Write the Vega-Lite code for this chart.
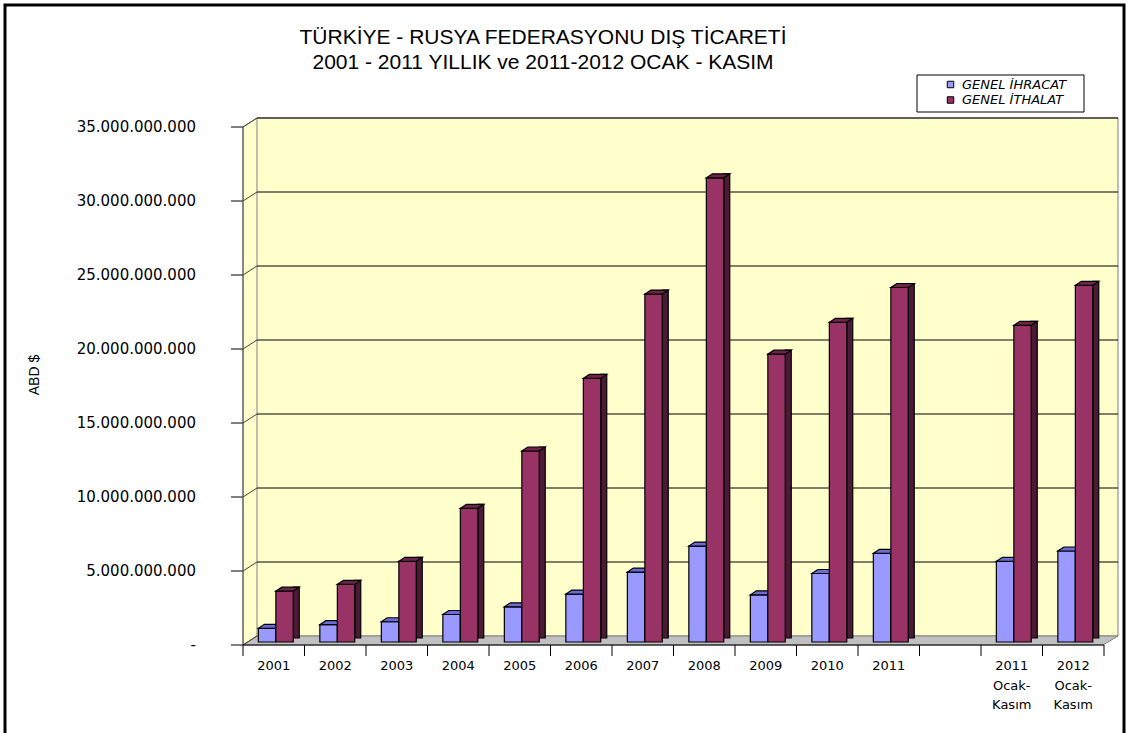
{
  "$schema": "https://vega.github.io/schema/vega-lite/v6.json",
  "width": 861,
  "height": 518,
  "autosize": "none",
  "padding": {"left": 243, "top": 127, "right": 25, "bottom": 88},
  "background": "white",
  "config": {"view": {"stroke": null}, "font": "Liberation Sans"},
  "datasets": {
    "ticaret": [
      {"donem": "2001", "seri": "GENEL İHRACAT", "deger": 924000000},
      {"donem": "2002", "seri": "GENEL İHRACAT", "deger": 1172000000},
      {"donem": "2003", "seri": "GENEL İHRACAT", "deger": 1368000000},
      {"donem": "2004", "seri": "GENEL İHRACAT", "deger": 1859000000},
      {"donem": "2005", "seri": "GENEL İHRACAT", "deger": 2377000000},
      {"donem": "2006", "seri": "GENEL İHRACAT", "deger": 3238000000},
      {"donem": "2007", "seri": "GENEL İHRACAT", "deger": 4727000000},
      {"donem": "2008", "seri": "GENEL İHRACAT", "deger": 6483000000},
      {"donem": "2009", "seri": "GENEL İHRACAT", "deger": 3190000000},
      {"donem": "2010", "seri": "GENEL İHRACAT", "deger": 4628000000},
      {"donem": "2011", "seri": "GENEL İHRACAT", "deger": 5993000000},
      {"donem": "2011 Ocak-Kasım", "seri": "GENEL İHRACAT", "deger": 5450000000},
      {"donem": "2012 Ocak-Kasım", "seri": "GENEL İHRACAT", "deger": 6150000000},
      {"donem": "2001", "seri": "GENEL İTHALAT", "deger": 3436000000},
      {"donem": "2002", "seri": "GENEL İTHALAT", "deger": 3892000000},
      {"donem": "2003", "seri": "GENEL İTHALAT", "deger": 5451000000},
      {"donem": "2004", "seri": "GENEL İTHALAT", "deger": 9033000000},
      {"donem": "2005", "seri": "GENEL İTHALAT", "deger": 12906000000},
      {"donem": "2006", "seri": "GENEL İTHALAT", "deger": 17806000000},
      {"donem": "2007", "seri": "GENEL İTHALAT", "deger": 23508000000},
      {"donem": "2008", "seri": "GENEL İTHALAT", "deger": 31364000000},
      {"donem": "2009", "seri": "GENEL İTHALAT", "deger": 19450000000},
      {"donem": "2010", "seri": "GENEL İTHALAT", "deger": 21601000000},
      {"donem": "2011", "seri": "GENEL İTHALAT", "deger": 23953000000},
      {"donem": "2011 Ocak-Kasım", "seri": "GENEL İTHALAT", "deger": 21400000000},
      {"donem": "2012 Ocak-Kasım", "seri": "GENEL İTHALAT", "deger": 24100000000}
    ],
    "tikler": [
      {"v": 0, "etiket": "-\u00a0\u00a0\u00a0\u00a0"},
      {"v": 5000000000, "etiket": "5.000.000.000"},
      {"v": 10000000000, "etiket": "10.000.000.000"},
      {"v": 15000000000, "etiket": "15.000.000.000"},
      {"v": 20000000000, "etiket": "20.000.000.000"},
      {"v": 25000000000, "etiket": "25.000.000.000"},
      {"v": 30000000000, "etiket": "30.000.000.000"},
      {"v": 35000000000, "etiket": "35.000.000.000"}
    ],
    "donemler": [
      {"donem": "2001", "etiket": "2001"},
      {"donem": "2002", "etiket": "2002"},
      {"donem": "2003", "etiket": "2003"},
      {"donem": "2004", "etiket": "2004"},
      {"donem": "2005", "etiket": "2005"},
      {"donem": "2006", "etiket": "2006"},
      {"donem": "2007", "etiket": "2007"},
      {"donem": "2008", "etiket": "2008"},
      {"donem": "2009", "etiket": "2009"},
      {"donem": "2010", "etiket": "2010"},
      {"donem": "2011", "etiket": "2011"},
      {"donem": " ", "etiket": ""},
      {"donem": "2011 Ocak-Kasım", "etiket": "2011|Ocak-|Kasım"},
      {"donem": "2012 Ocak-Kasım", "etiket": "2012|Ocak-|Kasım"}
    ]
  },
  "layer": [
    {
      "data": {"values": [{}]},
      "mark": {"type": "rect", "filled": false, "stroke": "black", "strokeWidth": 3},
      "encoding": {"x": {"value": -238}, "x2": {"value": 881}, "y": {"value": -122}, "y2": {"value": 640}}
    },
    {
      "data": {"values": [{}]},
      "mark": {"type": "text", "font": "Liberation Sans", "fontSize": 21, "fontWeight": "normal", "color": "black", "align": "center", "baseline": "alphabetic", "lineHeight": 24.5},
      "encoding": {
        "x": {"value": 300}, "y": {"value": -83},
        "text": {"value": ["TÜRKİYE - RUSYA FEDERASYONU DIŞ TİCARETİ", "2001 - 2011 YILLIK ve 2011-2012 OCAK - KASIM"]}
      }
    },
    {
      "data": {"values": [{}]},
      "mark": {"type": "text", "font": "Liberation Sans", "fontSize": 14, "color": "black", "align": "center", "baseline": "middle", "angle": 270},
      "encoding": {"x": {"value": -208}, "y": {"value": 248}, "text": {"value": "ABD $"}}
    },
    {
      "data": {"values": [{}]},
      "mark": {"type": "point", "shape": "M0,0L14,-9L875,-9L875,509L14,509L0,518ZM14,-9L14,509", "size": 4, "filled": true, "opacity": 1, "fill": "#FFFFCC", "stroke": "#808080", "strokeWidth": 1},
      "encoding": {"x": {"value": 0}, "y": {"value": 0}}
    },
    {
      "data": {"values": [{}]},
      "mark": {"type": "point", "shape": "M0,518L860,518L875,509L14,509Z", "size": 4, "filled": true, "opacity": 1, "fill": "#C0C0C0", "stroke": "#808080", "strokeWidth": 1},
      "encoding": {"x": {"value": 0}, "y": {"value": 0}}
    },
    {
      "data": {"name": "tikler"},
      "transform": [{"filter": "datum.v > 0"}],
      "mark": {"type": "rule", "color": "black", "strokeWidth": 1, "yOffset": -9},
      "encoding": {
        "x": {"value": 14}, "x2": {"value": 875},
        "y": {"field": "v", "type": "quantitative", "axis": null, "scale": {"domain": [0, 35000000000], "nice": false, "zero": true}}
      }
    },
    {
      "data": {"name": "tikler"},
      "mark": {"type": "rule", "color": "#404040", "strokeWidth": 1, "y2Offset": -9},
      "encoding": {
        "x": {"value": 0}, "x2": {"value": 14},
        "y": {"field": "v", "type": "quantitative", "axis": null, "scale": {"domain": [0, 35000000000], "nice": false, "zero": true}},
        "y2": {"field": "v"}
      }
    },
    {
      "data": {"name": "tikler"},
      "mark": {"type": "rule", "color": "black", "strokeWidth": 1},
      "encoding": {
        "x": {"value": -12}, "x2": {"value": 0},
        "y": {"field": "v", "type": "quantitative", "axis": null, "scale": {"domain": [0, 35000000000], "nice": false, "zero": true}}
      }
    },
    {
      "data": {"name": "tikler"},
      "mark": {"type": "text", "font": "DejaVu Sans", "fontSize": 15, "color": "black", "align": "right", "baseline": "middle"},
      "encoding": {
        "x": {"value": -47},
        "y": {"field": "v", "type": "quantitative", "axis": null, "scale": {"domain": [0, 35000000000], "nice": false, "zero": true}},
        "text": {"field": "etiket", "type": "nominal"}
      }
    },
    {
      "data": {"values": [{}]},
      "mark": {"type": "rule", "color": "#505050", "strokeWidth": 1},
      "encoding": {
        "x": {"value": 0},
        "y": {"datum": 0, "type": "quantitative", "axis": null, "scale": {"domain": [0, 35000000000], "nice": false, "zero": true}},
        "y2": {"datum": 35000000000}
      }
    },
    {
      "data": {"values": [{}]},
      "mark": {"type": "rule", "color": "black", "strokeWidth": 1},
      "encoding": {
        "x": {"value": 0}, "x2": {"value": 861},
        "y": {"datum": 0, "type": "quantitative", "axis": null, "scale": {"domain": [0, 35000000000], "nice": false, "zero": true}}
      }
    },
    {
      "data": {"name": "donemler"},
      "mark": {"type": "rule", "color": "black", "strokeWidth": 1},
      "encoding": {
        "x": {"field": "donem", "type": "nominal", "sort": null, "bandPosition": 0, "axis": null, "scale": {"domain": ["2001","2002","2003","2004","2005","2006","2007","2008","2009","2010","2011"," ","2011 Ocak-Kasım","2012 Ocak-Kasım"], "paddingInner": 0, "paddingOuter": 0}},
        "y": {"value": 518}, "y2": {"value": 529}
      }
    },
    {
      "data": {"values": [{}]},
      "mark": {"type": "rule", "color": "black", "strokeWidth": 1},
      "encoding": {"x": {"value": 861}, "y": {"value": 518}, "y2": {"value": 529}}
    },
    {
      "data": {"name": "donemler"},
      "mark": {"type": "text", "font": "DejaVu Sans", "fontSize": 13, "color": "black", "align": "center", "baseline": "top", "lineBreak": "|", "lineHeight": 19.5},
      "encoding": {
        "x": {"field": "donem", "type": "nominal", "sort": null, "axis": null, "scale": {"domain": ["2001","2002","2003","2004","2005","2006","2007","2008","2009","2010","2011"," ","2011 Ocak-Kasım","2012 Ocak-Kasım"], "paddingInner": 0, "paddingOuter": 0}},
        "y": {"value": 533},
        "text": {"field": "etiket", "type": "nominal"}
      }
    },
    {
      "data": {"name": "ticaret"},
      "transform": [{"filter": "datum.seri == 'GENEL İHRACAT'"}],
      "mark": {"type": "bar", "width": 17.4, "xOffset": -6.7, "yOffset": -3, "y2Offset": -3, "stroke": "black", "strokeWidth": 1.2},
      "encoding": {
        "x": {"field": "donem", "type": "nominal", "sort": null, "axis": null, "scale": {"domain": ["2001","2002","2003","2004","2005","2006","2007","2008","2009","2010","2011"," ","2011 Ocak-Kasım","2012 Ocak-Kasım"], "paddingInner": 0, "paddingOuter": 0}},
        "y": {"field": "deger", "type": "quantitative", "axis": null, "scale": {"domain": [0, 35000000000], "nice": false, "zero": true}},
        "color": {
          "field": "seri", "type": "nominal",
          "scale": {"domain": ["GENEL İHRACAT", "GENEL İTHALAT"], "range": ["#9999FF", "#993366"]},
          "legend": {
            "orient": "none", "legendX": 701, "legendY": -49, "title": null,
            "symbolType": "square", "symbolSize": 42, "symbolStrokeColor": "black", "symbolStrokeWidth": 1,
            "labelFont": "DejaVu Sans", "labelFontStyle": "italic", "labelFontSize": 13, "labelColor": "black",
            "labelOffset": 5, "rowPadding": 1.5, "padding": 0
          }
        }
      }
    },
    {
      "data": {"name": "ticaret"},
      "transform": [{"filter": "datum.seri == 'GENEL İHRACAT'"}],
      "mark": {"type": "point", "shape": "M-8.7,0L8.7,0L14.7,-4L-2.7,-4Z", "size": 4, "filled": true, "opacity": 1, "fill": "#6B6BD6", "stroke": "black", "strokeWidth": 1.2, "xOffset": -6.7, "yOffset": -3},
      "encoding": {
        "x": {"field": "donem", "type": "nominal", "sort": null, "axis": null, "scale": {"domain": ["2001","2002","2003","2004","2005","2006","2007","2008","2009","2010","2011"," ","2011 Ocak-Kasım","2012 Ocak-Kasım"], "paddingInner": 0, "paddingOuter": 0}},
        "y": {"field": "deger", "type": "quantitative", "axis": null, "scale": {"domain": [0, 35000000000], "nice": false, "zero": true}}
      }
    },
    {
      "data": {"name": "ticaret"},
      "transform": [{"filter": "datum.seri == 'GENEL İTHALAT'"}],
      "mark": {"type": "bar", "width": 6, "xOffset": 22.5, "yOffset": -7, "y2Offset": -7, "fill": "#4B1A35", "stroke": "black", "strokeWidth": 1.2},
      "encoding": {
        "x": {"field": "donem", "type": "nominal", "sort": null, "axis": null, "scale": {"domain": ["2001","2002","2003","2004","2005","2006","2007","2008","2009","2010","2011"," ","2011 Ocak-Kasım","2012 Ocak-Kasım"], "paddingInner": 0, "paddingOuter": 0}},
        "y": {"field": "deger", "type": "quantitative", "axis": null, "scale": {"domain": [0, 35000000000], "nice": false, "zero": true}}
      }
    },
    {
      "data": {"name": "ticaret"},
      "transform": [{"filter": "datum.seri == 'GENEL İTHALAT'"}],
      "mark": {"type": "bar", "width": 17.4, "xOffset": 10.8, "yOffset": -3, "y2Offset": -3, "stroke": "black", "strokeWidth": 1.2},
      "encoding": {
        "x": {"field": "donem", "type": "nominal", "sort": null, "axis": null, "scale": {"domain": ["2001","2002","2003","2004","2005","2006","2007","2008","2009","2010","2011"," ","2011 Ocak-Kasım","2012 Ocak-Kasım"], "paddingInner": 0, "paddingOuter": 0}},
        "y": {"field": "deger", "type": "quantitative", "axis": null, "scale": {"domain": [0, 35000000000], "nice": false, "zero": true}},
        "color": {"field": "seri", "type": "nominal", "scale": {"domain": ["GENEL İHRACAT", "GENEL İTHALAT"], "range": ["#9999FF", "#993366"]}}
      }
    },
    {
      "data": {"name": "ticaret"},
      "transform": [{"filter": "datum.seri == 'GENEL İTHALAT'"}],
      "mark": {"type": "point", "shape": "M-8.7,0L8.7,0L14.7,-4L-2.7,-4Z", "size": 4, "filled": true, "opacity": 1, "fill": "#6E2449", "stroke": "black", "strokeWidth": 1.2, "xOffset": 10.8, "yOffset": -3},
      "encoding": {
        "x": {"field": "donem", "type": "nominal", "sort": null, "axis": null, "scale": {"domain": ["2001","2002","2003","2004","2005","2006","2007","2008","2009","2010","2011"," ","2011 Ocak-Kasım","2012 Ocak-Kasım"], "paddingInner": 0, "paddingOuter": 0}},
        "y": {"field": "deger", "type": "quantitative", "axis": null, "scale": {"domain": [0, 35000000000], "nice": false, "zero": true}}
      }
    },
    {
      "data": {"values": [{}]},
      "mark": {"type": "rect", "fill": "white", "stroke": "black", "strokeWidth": 1},
      "encoding": {"x": {"value": 674}, "x2": {"value": 841}, "y": {"value": -52}, "y2": {"value": -15}}
    }
  ]
}
